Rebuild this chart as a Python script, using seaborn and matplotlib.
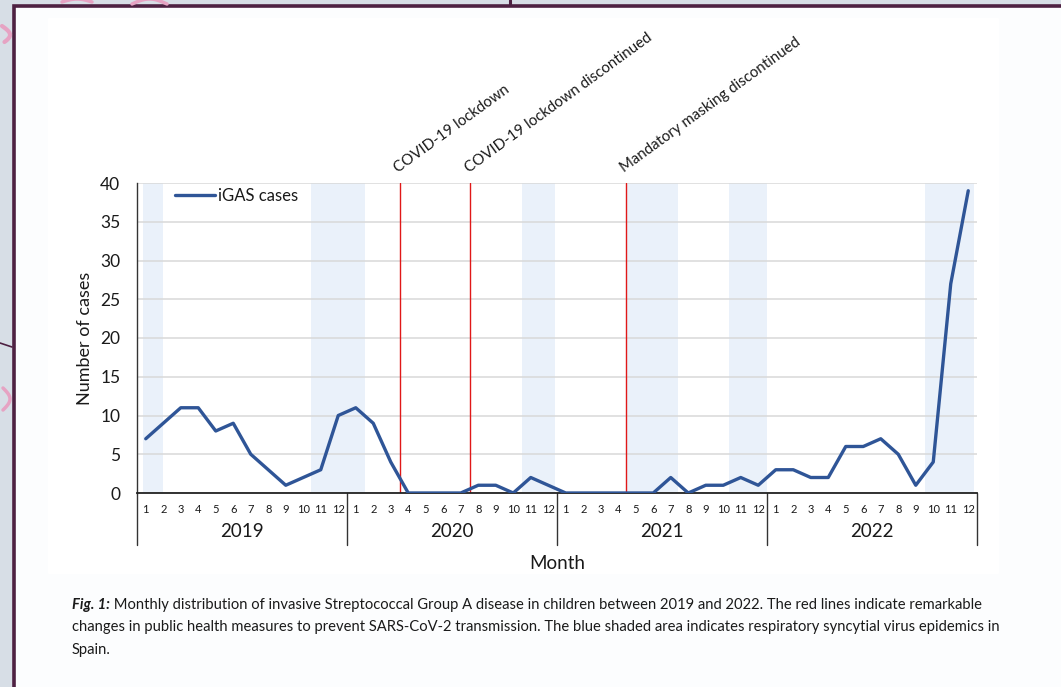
import numpy as np
import pandas as pd
import matplotlib
matplotlib.use("Agg")
import matplotlib.pyplot as plt
import matplotlib.transforms as mtransforms
from matplotlib.patches import Rectangle
import seaborn as sns

# ---- data -------------------------------------------------------------
years = ["2019", "2020", "2021", "2022"]
month_labels = [str(m) for m in range(1, 13)]
cases_2019 = [7, 9, 11, 11, 8, 9, 5, 3, 1, 2, 3, 10]
cases_2020 = [11, 9, 4, 0, 0, 0, 0, 1, 1, 0, 2, 1]
cases_2021 = [0, 0, 0, 0, 0, 0, 2, 0, 1, 1, 2, 1]
cases_2022 = [3, 3, 2, 2, 6, 6, 7, 5, 1, 4, 27, 39]

# RSV epidemic periods (month index, 0 = January 2019)
rsv_start = [-0.15, 9.45, 21.5, 27.45, 33.3, 44.5]
rsv_end = [1.0, 12.5, 23.4, 30.4, 35.5, 47.3]

# changes in public health measures (month index)
event_pos = [14.5, 18.55, 27.45]
event_labels = ["COVID-19 lockdown",
                "COVID-19 lockdown discontinued",
                "Mandatory masking discontinued"]

caption_lead = "Fig. 1:"
caption_lines = [
    " Monthly distribution of invasive Streptococcal Group A disease in children between 2019 and 2022. The red lines indicate remarkable",
    "changes in public health measures to prevent SARS-CoV-2 transmission. The blue shaded area indicates respiratory syncytial virus epidemics in",
    "Spain.",
]

all_cases = cases_2019 + cases_2020 + cases_2021 + cases_2022
df = pd.DataFrame({
    "idx": np.arange(len(all_cases)),
    "cases": all_cases,
    "series": "iGAS cases",
})

# ---- style ------------------------------------------------------------
sns.set_theme(style="white")
plt.rcParams["font.family"] = ["Lato", "DejaVu Sans"]
LINE_BLUE = "#2F5597"
SHADE = "#EAF1FA"
TXT = "#1a1a1a"

W, H = 1061, 687
fig = plt.figure(figsize=(W / 100, H / 100), dpi=100)

# page background, frame and sketch marks
bg = fig.add_axes([0, 0, 1, 1], zorder=-10)
bg.set_xlim(0, W)
bg.set_ylim(H, 0)
bg.axis("off")
bg.add_patch(Rectangle((0, 0), W, H, color="#D7DEE6"))
bg.add_patch(Rectangle((13.5, 5.5), W, H, facecolor="#FCFDFE",
                       edgecolor="#4E2142", linewidth=2.6))
bg.add_patch(Rectangle((48, 18), 950, 555, color="#FFFFFF"))
bg.plot([510, 510], [0, 5], color="#4E2142", lw=2.2)
bg.plot([0, 12], [343, 347], color="#4E2142", lw=1.2)
pink = "#E6A3C3"
t = np.linspace(0, 1, 60)
bg.plot(62 + 30 * t, 2 - 3 * np.sin(np.pi * t), color=pink, lw=2.5)
bg.plot(132 + 35 * t, 4 - 5 * np.sin(np.pi * t), color=pink, lw=2.5)
bg.plot(2 + 8 * np.sin(np.pi * t * 0.9), 26 + 16 * t, color=pink, lw=3)
bg.plot(3 + 7 * np.sin(np.pi * t), 388 + 22 * t, color=pink, lw=2.5)

# ---- main chart -------------------------------------------------------
ax = fig.add_axes([137 / W, 1 - 493 / H, 840 / W, 310 / H])
ax.set_facecolor("white")

for s, e in zip(rsv_start, rsv_end):
    ax.axvspan(s, e, color=SHADE, lw=0, zorder=0)

ax.set_ylim(0, 40)
ax.set_xlim(-0.5, 47.5)
ax.set_yticks(np.arange(0, 41, 5))
ax.yaxis.grid(True, color="#D9D9D9", lw=1.1, zorder=1)
ax.set_axisbelow(True)

for p in event_pos:
    ax.axvline(p, color="#E01818", lw=1.0, zorder=2)

sns.lineplot(data=df, x="idx", y="cases", hue="series",
             palette=[LINE_BLUE], lw=2.4, ax=ax, zorder=3)

for p, lab in zip(event_pos, event_labels):
    ax.text(p - 0.1, 41.3, lab, rotation=36, rotation_mode="anchor",
            ha="left", va="baseline", fontsize=10.8, color=TXT, clip_on=False)

for side in ["top", "right"]:
    ax.spines[side].set_visible(False)
ax.spines["left"].set_color("#333333")
ax.spines["left"].set_linewidth(1.0)
ax.spines["bottom"].set_color("#222222")
ax.spines["bottom"].set_linewidth(1.3)

ax.set_xticks(df["idx"])
ax.set_xticklabels(month_labels * len(years), fontsize=8, color=TXT)
ax.tick_params(axis="x", length=0, pad=8)
ax.tick_params(axis="y", length=0, pad=12, labelsize=12.5, labelcolor=TXT)
ax.set_xlabel("")
ax.set_ylabel("")

# year group labels and separators under the month row
trans = mtransforms.blended_transform_factory(ax.transData, ax.transAxes)
for i, yr in enumerate(years):
    ax.text(12 * i + 5.5, -0.1226, yr, transform=trans, ha="center",
            va="center", fontsize=13.5, color=TXT)
for b in range(len(years) + 1):
    ax.plot([12 * b - 0.5, 12 * b - 0.5], [0, -0.168], transform=trans,
            color="#333333", lw=1.0, clip_on=False)

ax.text(0.5, -0.226, "Month", transform=ax.transAxes, ha="center",
        va="center", fontsize=13.5, color=TXT)
ax.text(-0.062, 0.5, "Number of cases", transform=ax.transAxes,
        rotation=90, ha="center", va="center", fontsize=13, color=TXT)

leg = ax.legend(loc="upper left", bbox_to_anchor=(0.045, 0.985),
                frameon=False, fontsize=12, handlelength=2.4,
                handletextpad=0.2, borderaxespad=0, borderpad=0)
for txt in leg.get_texts():
    txt.set_color(TXT)

# ---- caption ----------------------------------------------------------
cap_font = ["Lato", "DejaVu Sans"]
cap_size = 10.6
fig.canvas.draw()
renderer = fig.canvas.get_renderer()
y0 = 605
lead = fig.text(72 / W, 1 - y0 / H, caption_lead, family=cap_font,
                fontsize=cap_size, style="italic", weight="bold",
                va="center", ha="left", color=TXT)
lead_w = lead.get_window_extent(renderer).width
for k, line in enumerate(caption_lines):
    x = 72 + (lead_w if k == 0 else 0)
    fig.text(x / W, 1 - (y0 + 22.5 * k) / H, line, family=cap_font,
             fontsize=cap_size, va="center", ha="left", color=TXT)

fig.savefig("out.png", dpi=100)
